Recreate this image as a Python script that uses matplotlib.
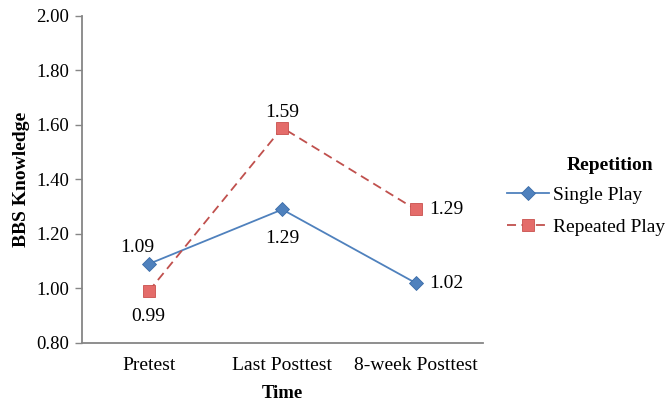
import matplotlib
matplotlib.use('Agg')
import matplotlib.pyplot as plt
import numpy as np

plt.rcParams['font.family'] = ['Liberation Serif', 'DejaVu Serif']

categories = ['Pretest', 'Last Posttest', '8-week Posttest']
single_play = [1.09, 1.29, 1.02]
repeated_play = [0.99, 1.59, 1.29]
yticks = [0.80, 1.00, 1.20, 1.40, 1.60, 1.80, 2.00]

blue = '#4F81BD'
red = '#C0504D'
red_fill = '#E46C6A'
grey = '#868686'

fig = plt.figure(figsize=(6.65, 4.03), dpi=100)
ax = fig.add_axes([0.1233, 0.1489, 0.6023, 0.8114])

x = np.arange(len(categories))
ax.plot(x, single_play, color=blue, lw=1.3, marker='D', ms=7.5,
        mfc=blue, mec='#3A6CA8', mew=0.6, label='Single Play', zorder=3)
ax.plot(x, repeated_play, color=red, lw=1.3, ls=(0, (5, 3)), marker='s', ms=8.5,
        mfc=red_fill, mec='#C9504D', mew=0.6, label='Repeated Play', zorder=3)

# data labels
fs = 14
ax.annotate(f'{single_play[0]:.2f}', (x[0], single_play[0]), xytext=(-8, 6),
            textcoords='offset points', ha='center', va='bottom', fontsize=fs)
ax.annotate(f'{repeated_play[0]:.2f}', (x[0], repeated_play[0]), xytext=(0, -12),
            textcoords='offset points', ha='center', va='top', fontsize=fs)
ax.annotate(f'{repeated_play[1]:.2f}', (x[1], repeated_play[1]), xytext=(0, 5),
            textcoords='offset points', ha='center', va='bottom', fontsize=fs)
ax.annotate(f'{single_play[1]:.2f}', (x[1], single_play[1]), xytext=(0, -15),
            textcoords='offset points', ha='center', va='top', fontsize=fs)
ax.annotate(f'{repeated_play[2]:.2f}', (x[2], repeated_play[2]), xytext=(10, 0),
            textcoords='offset points', ha='left', va='center', fontsize=fs)
ax.annotate(f'{single_play[2]:.2f}', (x[2], single_play[2]), xytext=(10, 0),
            textcoords='offset points', ha='left', va='center', fontsize=fs)

ax.set_xlim(-0.5, 2.5)
ax.set_ylim(0.8, 2.0)
ax.set_yticks(yticks)
ax.set_yticklabels([f'{v:.2f}' for v in yticks], fontsize=13.5)
ax.set_xticks(x)
ax.set_xticklabels(categories, fontsize=14)
ax.tick_params(axis='x', length=0, pad=10)
ax.tick_params(axis='y', length=5, width=1, color=grey, pad=4)

for s in ['top', 'right']:
    ax.spines[s].set_visible(False)
for s in ['left', 'bottom']:
    ax.spines[s].set_color(grey)
    ax.spines[s].set_linewidth(1.3)

ax.set_xlabel('Time', fontsize=13.5, fontweight='bold', labelpad=8)
ax.set_ylabel('BBS Knowledge', fontsize=14, fontweight='bold', labelpad=5)

leg = ax.legend(loc='upper left', bbox_to_anchor=(1.028, 0.521),
                frameon=False, fontsize=14,
                handlelength=2.15, handletextpad=0.2, labelspacing=0.76, borderpad=0.2)
fig.text(610 / 665, 1 - 165 / 403, 'Repetition', ha='center', va='center',
         fontsize=14, fontweight='bold')

fig.savefig('out.png', dpi=100)
